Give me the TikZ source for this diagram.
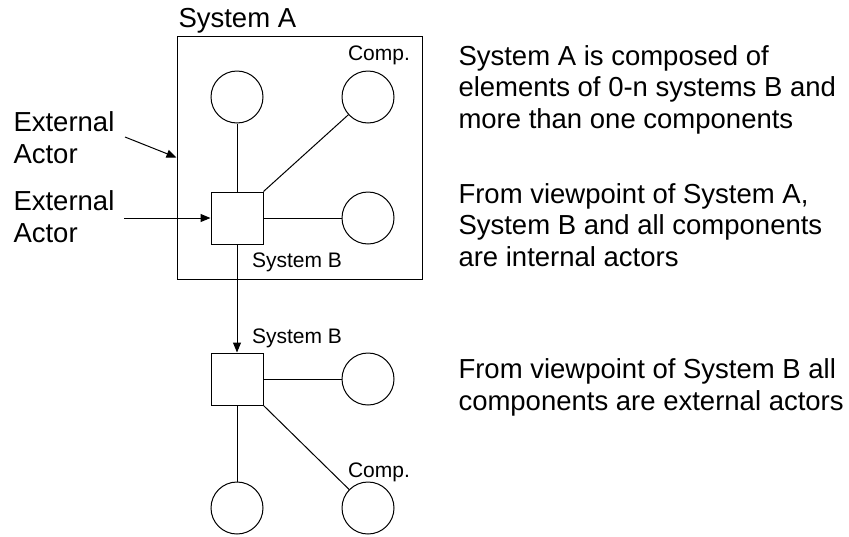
\documentclass[tikz,border=0pt]{standalone}
\usepackage{fontspec}
\setmainfont{Liberation Sans}
\usetikzlibrary{arrows.meta}
\begin{document}
\begin{tikzpicture}[x=1pt,y=-1pt,
  line width=1pt,
  comp/.style={draw, circle, minimum size=52pt, inner sep=0pt},
  sysbox/.style={draw, rectangle, minimum size=52pt, inner sep=0pt},
  bigtext/.style={font=\fontsize{27.5}{31.5}\selectfont, align=left, inner sep=0pt, anchor=base west},
  smalltext/.style={font=\fontsize{21}{25}\selectfont, inner sep=0pt, anchor=base},
  arr/.style={-{Triangle[length=10pt,width=8pt]}}
]
\useasboundingbox (0,0) rectangle (849,536);

% System A frame and its title
\node[draw, minimum width=245pt, minimum height=243pt, inner sep=0pt] (sysA) at (299.5,157.5) {};
\node[bigtext] (labA) at (178,27) {System A};

% inside System A
\node[comp] (c1) at (237,97) {};
\node[comp] (c2) at (368,97) {};
\node[smalltext] (labC1) at (379,60) {Comp.};
\node[sysbox] (sqB) at (237,218) {};
\node[comp] (c3) at (368,218) {};
\node[smalltext] (labB1) at (297,267) {System B};

\draw (sqB.north) -- (c1);
\draw (sqB.north east) -- (c2);
\draw (sqB.east) -- (c3);

% external actors (base anchor sits on the last line)
\node[bigtext] (ext1) at (13,163) {External\\Actor};
\node[bigtext] (ext2) at (13,242) {External\\Actor};
\coordinate (e1) at (125,137);
\coordinate (e2) at (124,218);
\draw[arr] (e1) -- (sysA.west);
\draw[arr] (e2) -- (sqB.west);

% System B on its own
\node[sysbox] (sqB2) at (237,379) {};
\node[smalltext] (labB2) at (297,343) {System B};
\node[comp] (c4) at (368,379) {};
\node[comp] (c5) at (237,508) {};
\node[comp] (c6) at (368,508) {};
\node[smalltext] (labC2) at (379,477) {Comp.};

\draw[arr] (sqB.south) -- (sqB2.north);
\draw (sqB2.east) -- (c4);
\draw (sqB2.south) -- (c5);
\draw (sqB2.south east) -- (c6);

% explanations
\node[bigtext] (t1) at (458,128) {System A is composed of\\elements of 0-n systems B and\\more than one components};
\node[bigtext] (t2) at (458,266) {From viewpoint of System A,\\System B and all components\\are internal actors};
\node[bigtext] (t3) at (458,410) {From viewpoint of System B all\\components are external actors};
\end{tikzpicture}
\end{document}
